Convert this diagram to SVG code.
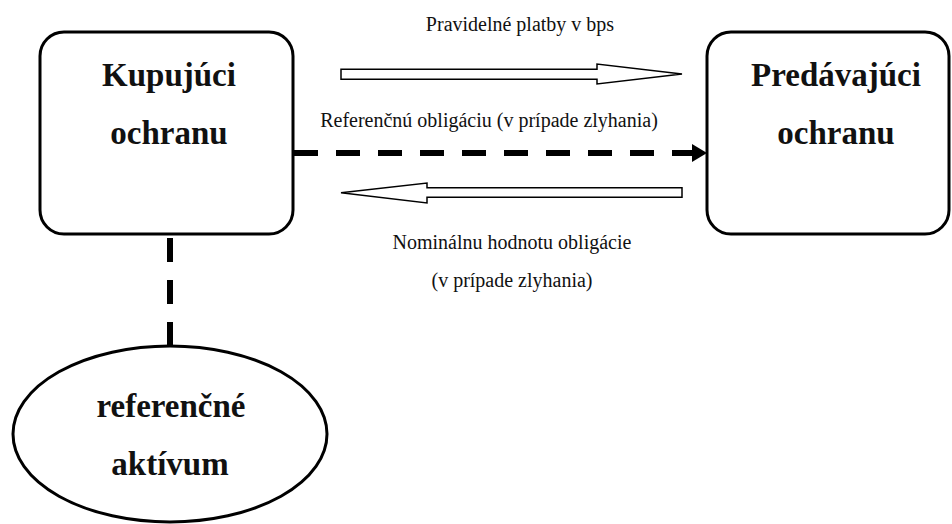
<svg xmlns="http://www.w3.org/2000/svg" width="952" height="524" viewBox="0 0 952 524">
<style>
.node{fill:#fff;stroke:#000;stroke-width:3}
.big{font-family:"Liberation Serif","Times New Roman",serif;font-weight:bold;font-size:33px;fill:#111;text-anchor:middle}
.lbl{font-family:"Liberation Serif","Times New Roman",serif;font-size:20px;fill:#111;text-anchor:middle}
.hollow{fill:#fff;stroke:#000;stroke-width:1.5;stroke-linejoin:miter}
.dash{fill:none;stroke:#000;stroke-width:6;stroke-dasharray:24 18}
</style>
<defs>
<marker id="solidHead" markerWidth="15" markerHeight="18" refX="15" refY="9" orient="auto" markerUnits="userSpaceOnUse">
<path d="M0,0 L15,9 L0,18 Z" fill="#000"/>
</marker>
</defs>
<rect width="952" height="524" fill="#fff"/>
<g id="connectors">
<path class="hollow" d="M341,69.3 L597,69.3 L597,64 L682,74 L597,84 L597,79.3 L341,79.3 Z"/>
<path class="hollow" d="M682,187.7 L427,187.7 L427,183 L341,192.7 L427,203 L427,197.3 L682,197.3 Z"/>
<line class="dash" x1="294" y1="153" x2="707" y2="153" marker-end="url(#solidHead)"/>
<line class="dash" x1="170" y1="238" x2="170" y2="345"/>
<text class="lbl" x="520" y="31">Pravidelné platby v bps</text>
<text class="lbl" x="489" y="127">Referenčnú obligáciu (v prípade zlyhania)</text>
<text class="lbl" x="512" y="249">Nominálnu hodnotu obligácie</text>
<text class="lbl" x="512" y="287">(v prípade zlyhania)</text>
</g>
<g id="kupujuci">
<rect class="node" x="40" y="32" width="253" height="202" rx="24" ry="24"/>
<text class="big" x="169" y="86">Kupujúci</text>
<text class="big" x="169" y="144">ochranu</text>
</g>
<g id="predavajuci">
<rect class="node" x="707" y="32" width="242" height="202" rx="24" ry="24"/>
<text class="big" x="836" y="86">Predávajúci</text>
<text class="big" x="836" y="144">ochranu</text>
</g>
<g id="referencne">
<ellipse class="node" cx="170" cy="434" rx="157" ry="88"/>
<text class="big" x="171" y="417">referenčné</text>
<text class="big" x="170" y="475">aktívum</text>
</g>
</svg>
